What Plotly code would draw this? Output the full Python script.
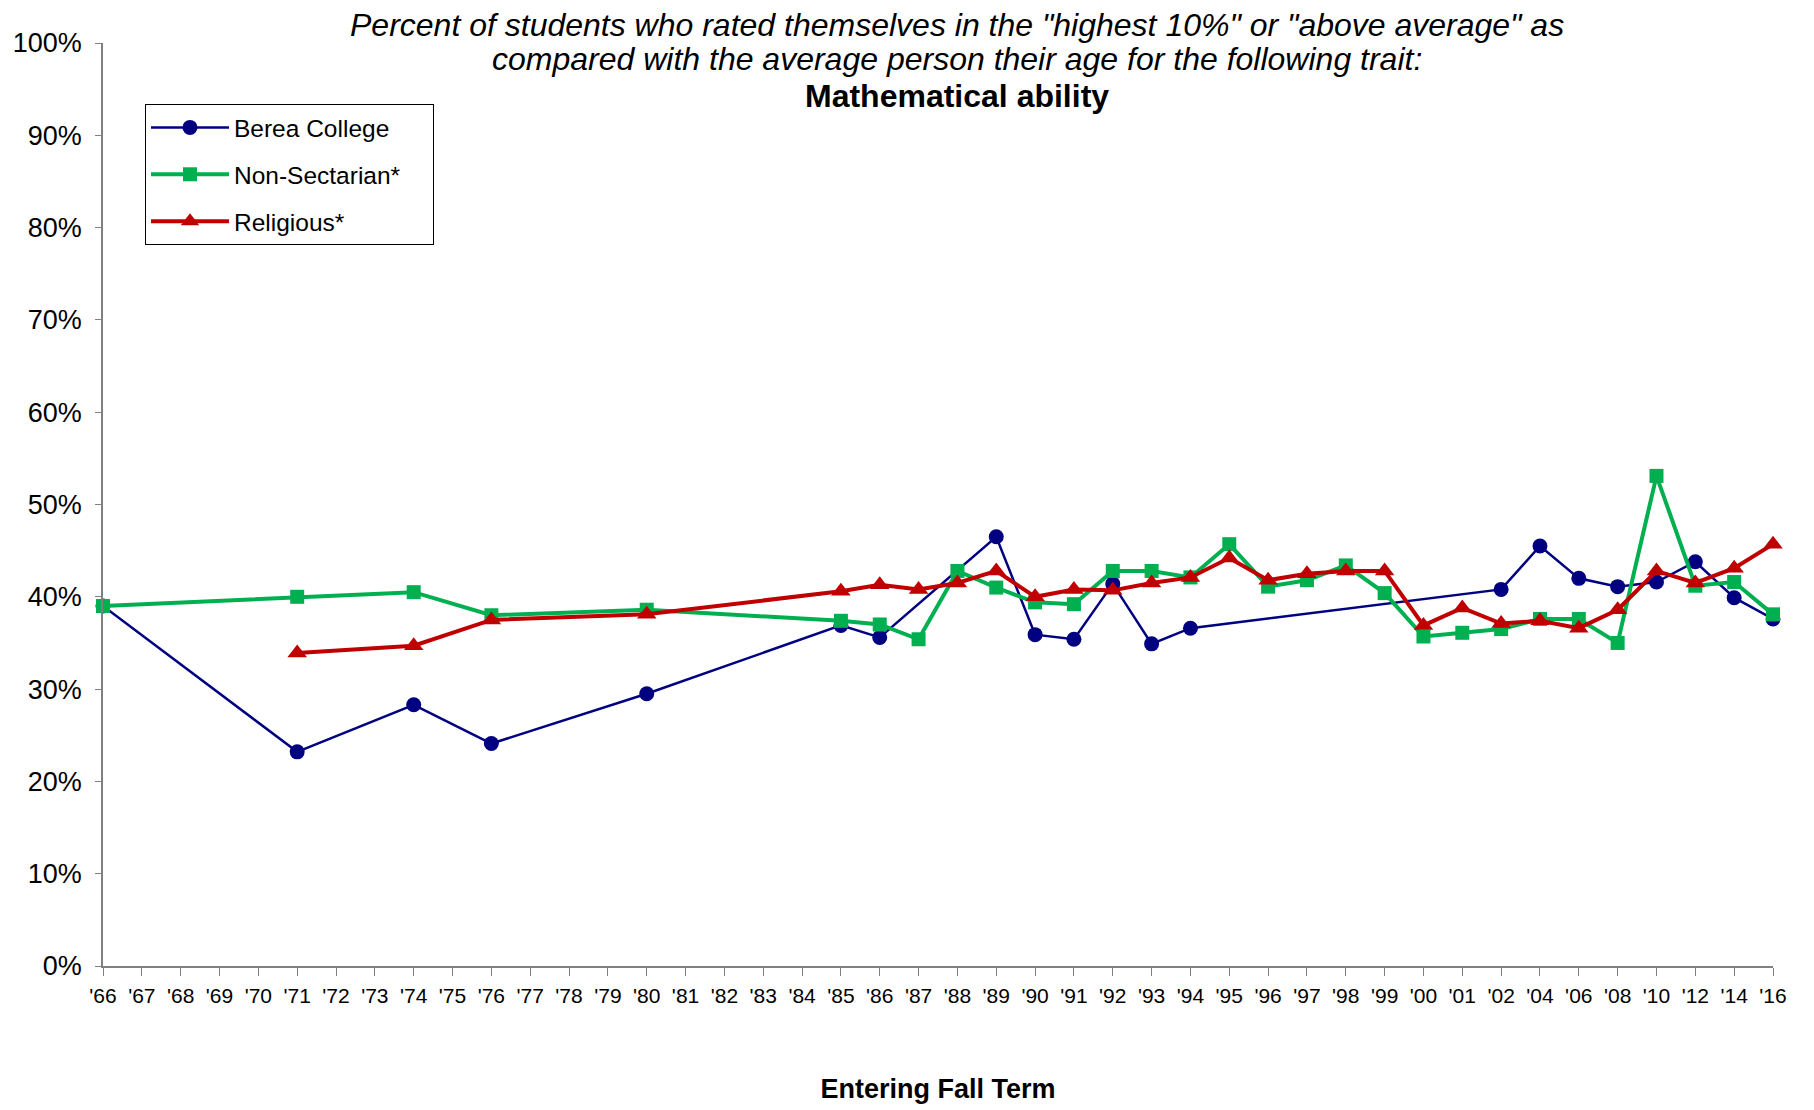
import plotly.graph_objects as go

years = ["'66","'67","'68","'69","'70","'71","'72","'73","'74","'75","'76","'77","'78","'79",
         "'80","'81","'82","'83","'84","'85","'86","'87","'88","'89","'90","'91","'92","'93",
         "'94","'95","'96","'97","'98","'99","'00","'01","'02","'04","'06","'08","'10","'12",
         "'14","'16"]

N = None
berea = [39.0, N, N, N, N, 23.2, N, N, 28.3, N, 24.1, N, N, N,
         29.5, N, N, N, N, 36.9, 35.6, N, N, 46.5, 35.9, 35.4, 41.4, 34.9,
         36.6, N, N, N, N, N, N, N, 40.8, 45.5, 42.0, 41.1, 41.6, 43.8,
         39.9, 37.6]
nonsect = [39.0, N, N, N, N, 40.0, N, N, 40.5, N, 38.0, N, N, N,
           38.6, N, N, N, N, 37.4, 37.0, 35.4, 42.8, 41.0, 39.4, 39.2, 42.8, 42.8,
           42.1, 45.7, 41.1, 41.8, 43.4, 40.4, 35.7, 36.1, 36.5, 37.6, 37.6, 35.0, 53.1, 41.2,
           41.6, 38.1]
relig = [N, N, N, N, N, 33.9, N, N, 34.7, N, 37.5, N, N, N,
         38.1, N, N, N, N, 40.6, 41.3, 40.8, 41.5, 42.8, 40.0, 40.8, 40.7, 41.5,
         42.1, 44.2, 41.8, 42.5, 42.8, 42.8, 36.9, 38.8, 37.1, 37.4, 36.6, 38.6, 42.8, 41.5,
         43.1, 45.7]

title_lines = [
    "<i>Percent of students who rated themselves in the \"highest 10%\" or \"above average\" as</i>",
    "<i>compared with the average person their age for the following trait:</i>",
    "<b>Mathematical ability</b>",
]

series = [
    ("Berea College", berea, "#000080", 2.5, "circle", 15),
    ("Non-Sectarian*", nonsect, "#00B050", 4, "square", 14),
    ("Religious*", relig, "#C00000", 4, "triangle-up", 17),
]

OFF = 8  # page body margin
W, H = 1814, 1110
PL, PR, PT, PB = 103, 1773.5, 43, 966
L, T = PL - OFF, PT - OFF
R = W - (PR - OFF)
B = H - (PB - OFF)
pw = PR - PL
ph = PB - PT

def px(xp):
    return (xp - PL) / pw

def py(yp):
    return (PB - yp) / ph

fig = go.Figure()
for i, (name, vals, col, w, sym, ms) in enumerate(series):
    fig.add_trace(go.Scatter(
        x=years, y=vals, name=name + "&nbsp;" * 4, mode="lines+markers", connectgaps=True,
        line=dict(color=col, width=w), marker=dict(symbol=sym, size=ms, color=col),
        cliponaxis=False, legendgroup=f"g{i}"))

title_y = [25, 59, 96]
for txt, yc in zip(title_lines, title_y):
    fig.add_annotation(text=txt, xref="paper", yref="paper",
                       x=px(957), y=py(yc),
                       xanchor="center", yanchor="middle", showarrow=False,
                       font=dict(size=32, color="black"))

fig.update_layout(
    width=W, height=H,
    paper_bgcolor="white", plot_bgcolor="white",
    margin=dict(l=L, r=R, t=T, b=B),
    font=dict(family="Liberation Sans, Arial, sans-serif", color="black"),
    showlegend=True,
    legend=dict(x=px(145), y=py(104), xanchor="left", yanchor="top",
                bordercolor="black", borderwidth=1, bgcolor="white",
                font=dict(size=24.5), tracegroupgap=12, itemwidth=78),
    xaxis=dict(type="category", range=[0, 43], showgrid=False, automargin=False,
               showline=True, linecolor="#808080", linewidth=2,
               ticks="outside", ticklen=8, tickcolor="#808080",
               tickangle=0, tickfont=dict(size=21), ticklabelstandoff=2,
               title=dict(text="<b>Entering Fall Term</b>", font=dict(size=27), standoff=73)),
    yaxis=dict(range=[0, 100], dtick=10, ticksuffix="%", showgrid=False, automargin=False,
               showline=True, linecolor="#808080", linewidth=1.5,
               ticks="outside", ticklen=6, tickcolor="#808080", ticklabelstandoff=8,
               tickfont=dict(size=27), zeroline=False),
)

fig.write_html("out.html")
